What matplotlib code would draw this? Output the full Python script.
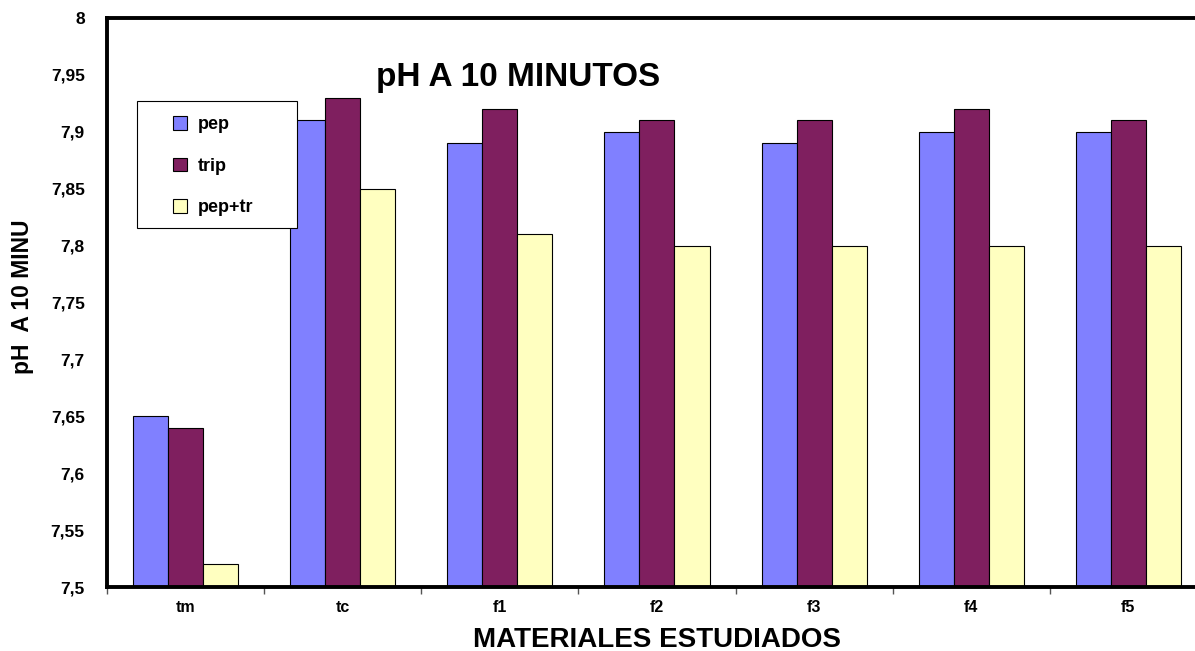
import numpy as np
import matplotlib
matplotlib.use("Agg")
import matplotlib.pyplot as plt
from matplotlib.patches import Rectangle
from matplotlib.ticker import FuncFormatter

plt.rcParams['font.family'] = ['Liberation Sans', 'DejaVu Sans']
plt.rcParams['font.weight'] = 'bold'

materiales = ["tm", "tc", "f1", "f2", "f3", "f4", "f5"]
pep = [7.65, 7.91, 7.89, 7.90, 7.89, 7.90, 7.90]
trip = [7.64, 7.93, 7.92, 7.91, 7.91, 7.92, 7.91]
pep_tr = [7.52, 7.85, 7.81, 7.80, 7.80, 7.80, 7.80]

series = [("pep", pep, "#8080ff"), ("trip", trip, "#7f1f5f"), ("pep+tr", pep_tr, "#ffffc0")]

fig = plt.figure(figsize=(11.95, 6.51), dpi=100)
ax = fig.add_axes([0.0895, 0.0983, 0.9205, 0.8741])

x = np.arange(len(materiales))
width = 0.223
base = 7.5
for i, (name, vals, color) in enumerate(series):
    ax.bar(x + (i - 1) * width, np.array(vals) - base, width, bottom=base,
           color=color, edgecolor="black", linewidth=0.8, label=name, zorder=2)

ax.set_xlim(-0.5, len(materiales) - 0.5)
ax.set_ylim(7.5, 8.0)
ax.set_yticks(np.arange(7.5, 8.001, 0.05))
ax.yaxis.set_major_formatter(FuncFormatter(
    lambda v, p: ("%.2f" % v).rstrip("0").rstrip(".").replace(".", ",")))
ax.tick_params(axis="y", length=0, pad=16, labelsize=12.5)

ax.set_xticks(x)
ax.set_xticklabels(materiales, fontsize=11.5)
ax.tick_params(axis="x", which="major", length=0, pad=9)
ax.set_xticks(np.arange(-0.5, len(materiales), 1), minor=True)
ax.tick_params(axis="x", which="minor", length=5, color="#555555", width=1)

for side in ["left", "bottom", "top"]:
    ax.spines[side].set_linewidth(2.8)
ax.spines["right"].set_visible(False)

ax.set_xlabel("MATERIALES ESTUDIADOS", fontsize=20, fontweight="bold", labelpad=9)
fig.text(0.019, 0.544, "pH  A 10 MINU", rotation=90, fontsize=16.5,
         fontweight="bold", ha="center", va="center")

fig.text(0.4335, 0.881, "pH A 10 MINUTOS", fontsize=24, fontweight="bold",
         ha="center", va="center")

# legend box drawn separately so its size can be set freely
fig.add_artist(Rectangle((137 / 1195, 1 - 228 / 651), 160 / 1195, 127 / 651,
                         transform=fig.transFigure, facecolor="white",
                         edgecolor="black", linewidth=0.8, zorder=5))
leg = fig.legend(loc="upper left", bbox_to_anchor=(173 / 1195, 1 - 116 / 651),
                 fontsize=13, frameon=False,
                 handlelength=0.8, handleheight=0.8, labelspacing=1.35,
                 borderpad=0, handletextpad=0.55, borderaxespad=0)
leg.set_zorder(6)
for t in leg.get_texts():
    t.set_fontweight("bold")

fig.savefig("out.png", dpi=100)
